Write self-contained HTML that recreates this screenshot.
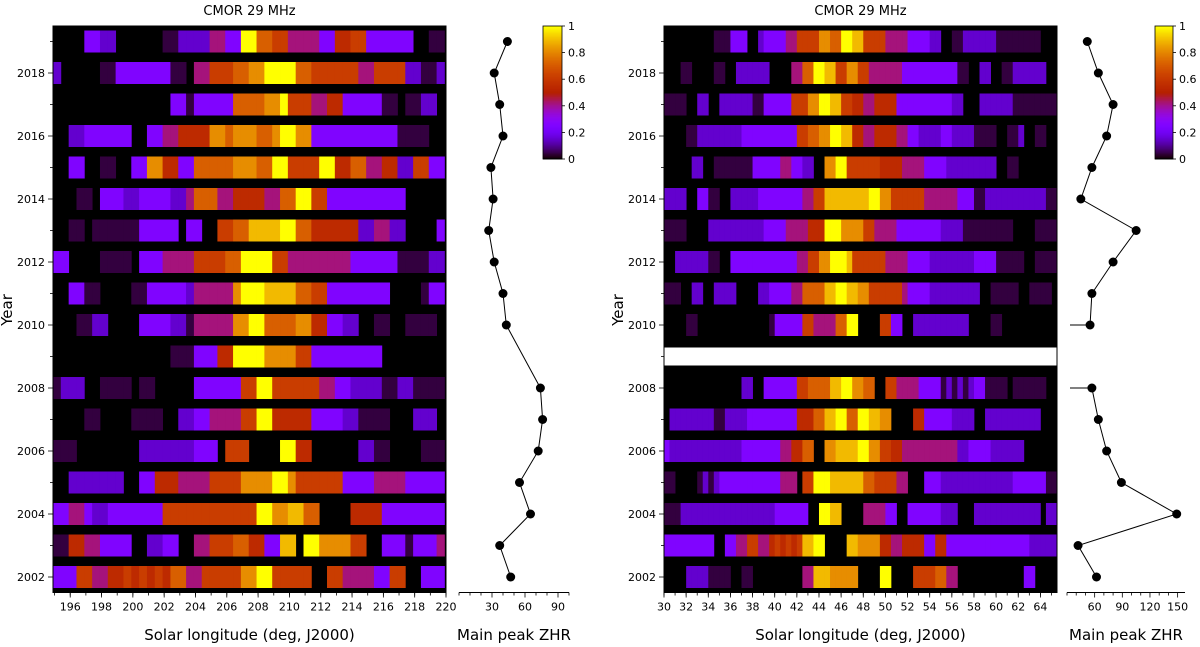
<!DOCTYPE html>
<html><head><meta charset="utf-8">
<style>
html,body{margin:0;padding:0;background:#fff;}
svg{display:block;font-family:"DejaVu Sans","Liberation Sans",sans-serif;}
</style></head>
<body>
<svg id="fig" width="1200" height="647" viewBox="0 0 1200 647" xmlns="http://www.w3.org/2000/svg"></svg>
<script>
// ---------- DATA ----------
const years = [2019,2018,2017,2016,2015,2014,2013,2012,2011,2010,2009,2008,2007,2006,2005,2004,2003,2002];
// Intensity level codes per 0.5-deg bin ('.' = no data); spaces are only separators
const levelCodes  = ['1','2','3','4','5','6','7','8','9','a'];
const levelValues = [0.04,0.15,0.25,0.42,0.55,0.62,0.72,0.82,0.9,1.0];
// Left panel bins start at 195.0 deg
const leftRows = [
".... 33 22 ...... 11 2222 44 33 aa 77 66 4444 33 55 66 333333 .. 11",
"2 ..... 11 33333 33 11 . 44 666 77 88 aaaa 77 666666 44 6666 22 11 2",
"............... 33 1 33333 7777 88 a 666 44 55 33333 11 . 11 22 .",
".. 22 3 33333 .. 33 44 5555 88 7 888 77 8 aa 88 333333 33333 1111 ..",
".. 33 .. 11 .. 33 88 55 33 77777 888 77 aa 6666 aa 55 77 44 55 22 66 33",
"... 11 . 333 22 3333 22 4 777 44 5555 44 77 aa 66 333333 3333 .....",
".. 11 . 111111 33333 . 33 .. 66 77 9999 aa 77 555555 22 44 22 .... 3",
"33 .... 1111 . 333 4444 6666 77 aaaa 66 44444444 33 3333 1111 22",
".. 33 11 .... 11 33 333 2 44444 8 aaa 9999 77 66 333333 33 .... 1 33",
"... 11 22 .... 3333 22 1 444 44 88 aa 7777 88 55 33 22 .. 11 .. 1111 .",
"............... 111 333 55 aaaa 8888 66 333333333 ........",
"1 222 .. 1111 . 11 ..... 33 3333 66 aa 666666 44 33 2222 11 22 1111",
".... 11 .... 1111 .. 22 33 4444 66 aa 55555 3333 22 1111 ... 222 .",
"111 ........ 2222222 333 . 666 .... aa 55 ...... 22 11 .... 111",
".. 2222222 .. 33 555 4444 6666 8888 aa 8 666666 3333 4444 33333",
"33 44 3 22 3333333 666666666666 aa 88 99 77 .... 5555 33333333",
"11 55 44 3333 .. 22 33 .. 44 666 77 55 33 99 . aa 8888 66 .. 333 1 333 4",
"333 66 44 5 5656565 77 44 66666 88 aa 66666 .. 66 4444 33 66 .. 333"
];
// Right panel bins start at 30.0 deg
const rightRows = [
"......... 111 333 .. 2 3333 44 6666 88 77 aa 99 6666 44 44 3333 22 .. 11 222222 11 111111 ...",
"... 11 .... 11 .. 222222 .... 44 77 aa 99 66 88 66 444444 33 33333333 11 .. 22 .. 11 222222 ..",
"1111 .. 22 .. 222222 11 33333 666 88 aa 99 66 55 44 5555 33 33333333 22 ... 222222 11111111",
".... 11 22222222 33 3333 3333 66 77 88 aa 99 55 44 5555 44 33 2222 33 2222 1111 .. 11 2 .. 11 ..",
"..... 22 .. 1111111 33333 44 33 22 .. 88 aa 666666 5555 4444 3333 222222222 .. 11 .......",
"2222 .. 33 11 .. 22222 33333333 44 66 99999999 aa 88 666666 444444 333 11 22222222222 11",
"1111 .... 2222222222 3333 4444 555 aaa 8888 66 4444 33333333 2222 111111111 .... 1111",
".. 222222 11 .. 3333 33333333 44 66 88 aaa 9 666666 4444 3333 22222222 3333 11111 .. 1111",
"111 .. 22 .. 2222 .... 22 3333 44 7777 99 aa 99 88 666666 4 3333 222222222 .. 11111 .. 1111 .",
".... 11 ............. 1 33333 66 4444 77 aa .... 66 33 .. 2222222222 .... 11 ..........",
".......................................................................",
".............. 22 .. 333333 66 7777 99 aa 88 77 .. 66 4444 3333 121212 33 1111 . 111111 ..",
". 22222222 11 2222 33333333 3 555 77 99 aa 77 aa 99 88 .... 55 33333 2222 .. 2222222222 ...",
"3 2222222222222 3333333 44 55 77 .. 88 9999 aa 88 66 55 44 44 444444 22 3333 222222 ......",
"11 .... 1212 33333333333 444 . 66 aaa 999999 77 6666 44 ... 333 2222222222222 333333 11",
"111 22222222222222222 333333 .. aa 99 .... 4444 33 .. 333333 222 ... 222222222222 . 22",
"333333333 .. 33 44 66 44 565656 99 aa .... 99 8888 55 44 5555 33 55 333333333333333 22222",
".... 2222 1111 .. 11 ......... 44 999 88888 .... aa .... 6666 77 44 ............ 33 ...."
];
const gapYears = [2009];
// Main peak ZHR (null = no data)
const zhrLeft  = [44,32,37,40,29,31,27,32,40,43,null,74,76,72,55,65,37,47];
const zhrRight = [52,64,80,73,57,45,105,80,57,55,null,57,64,73,89,149,42,62];
const leftTicks = [196,198,200,202,204,206,208,210,212,214,216,218,220];
const rightTicks = [30,32,34,36,38,40,42,44,46,48,50,52,54,56,58,60,62,64];
const zhrTicksL = [30,60,90];
const zhrTicksR = [60,90,120,150];
const cbTicks = [0,0.2,0.4,0.6,0.8,1];

// ---------- HELPERS ----------
const NS="http://www.w3.org/2000/svg";
const svg=document.getElementById('fig');
function mk(tag,attrs,parent){const e=document.createElementNS(NS,tag);for(const k in attrs)e.setAttribute(k,attrs[k]);(parent||svg).appendChild(e);return e;}
function gnu(v){v=Math.max(0,Math.min(1,v));const r=Math.sqrt(v),g=v*v*v,b=Math.max(0,Math.sin(2*Math.PI*v));
 return `rgb(${Math.round(r*255)},${Math.round(g*255)},${Math.round(b*255)})`;}
const yTop=26,yBot=592.5;
const yOf=y=>577+(2002-y)*31.5;

function heatPanel(name,rowsRaw,x0px,x1px,d0,d1,binW,ticks){
 const rows=rowsRaw.map(s=>s.replace(/ /g,''));
 const xs=d=>x0px+(d-d0)/(d1-d0)*(x1px-x0px);
 const g=mk('g',{});
 
 
 const bg=mk('rect',{x:x0px,y:yTop,width:x1px-x0px,height:yBot-yTop,fill:'#000'},g);
 
 
 rows.forEach((s,ri)=>{
  const yr=years[ri];const yc=yOf(yr);
  if(gapYears.includes(yr) && name==='right-heatmap'){
   const w=mk('rect',{x:x0px,y:yc-9,width:x1px-x0px,height:18,fill:'#fff'},g);
   
   
  }
  for(let i=0;i<s.length;i++){
   const k=levelCodes.indexOf(s[i]);if(k<0)continue;
   const dA=d0+i*binW;if(dA>=d1)break;
   const xa=xs(dA),xb=Math.min(xs(dA+binW),x1px);
   const c=mk('rect',{x:xa,y:yc-11,width:Math.max(0,xb-xa+0.4),height:22,fill:gnu(levelValues[k])},g);
   
   
  }
 });
 mk('rect',{x:x0px,y:yTop,width:x1px-x0px,height:yBot-yTop,fill:'none',stroke:'#000','stroke-width':1},g);
 for(let d=Math.ceil(d0);d<=d1;d+=1){
  const x=xs(d);mk('line',{x1:x,y1:yBot,x2:x,y2:yBot+3,stroke:'#000','stroke-width':0.8},g);
 }
 ticks.forEach(t=>{const x=xs(t);
  mk('line',{x1:x,y1:yBot,x2:x,y2:yBot+5,stroke:'#000','stroke-width':0.8},g);
  const tx=mk('text',{x:x,y:yBot+18,'font-size':11,'text-anchor':'middle'},g);tx.textContent=t;
  
  
 });
 for(let y=2002;y<=2019;y++){const yy=yOf(y);const major=y%2===0;
  mk('line',{x1:x0px,y1:yy,x2:x0px-(major?5:3),y2:yy,stroke:'#000','stroke-width':0.8},g);
  if(major){const t=mk('text',{x:x0px-8,y:yy+4,'font-size':11,'text-anchor':'end'},g);t.textContent=y;
   
   }
 }
 const title=mk('text',{x:(x0px+x1px)/2,y:15,'font-size':13,'text-anchor':'middle'},g);title.textContent='CMOR 29 MHz';
 
 
 const xl=mk('text',{x:(x0px+x1px)/2,y:640,'font-size':15,'text-anchor':'middle'},g);xl.textContent='Solar longitude (deg, J2000)';
 
 
 const yl=mk('text',{x:0,y:0,'font-size':15,'text-anchor':'middle',transform:`translate(${x0px-41},310) rotate(-90)`},g);yl.textContent='Year';
 
 
}

function zhrPanel(name,vals,x0px,x1px,v0,v1,ticks,stubs){
 const xs=v=>x0px+(v-v0)/(v1-v0)*(x1px-x0px);
 const g=mk('g',{});
 
 
 mk('line',{x1:x0px,y1:yBot,x2:x1px,y2:yBot,stroke:'#000','stroke-width':1},g);
 for(let v=Math.ceil(v0/10)*10;v<=v1;v+=10){const x=xs(v);
  mk('line',{x1:x,y1:yBot,x2:x,y2:yBot+(ticks.includes(v)?5:3),stroke:'#000','stroke-width':0.8},g);}
 ticks.forEach(t=>{const tx=mk('text',{x:xs(t),y:yBot+18,'font-size':11,'text-anchor':'middle'},g);tx.textContent=t;
  
  });
 let seg=[];const segs=[];
 vals.forEach((v,i)=>{if(v==null){if(seg.length)segs.push(seg);seg=[];}else seg.push([xs(v),yOf(years[i])]);});
 if(seg.length)segs.push(seg);
 const all=stubs?segs:[segs.flat()];
 all.forEach(s=>{const p=mk('polyline',{points:s.map(q=>q.join(',')).join(' '),fill:'none',stroke:'#000','stroke-width':1},g);
  
  });
 if(stubs){vals.forEach((v,i)=>{if(v!=null&&(vals[i-1]===null||vals[i+1]===null)){
  mk('line',{x1:x0px+3,y1:yOf(years[i]),x2:xs(v),y2:yOf(years[i]),stroke:'#000','stroke-width':1},g);}});}
 vals.forEach((v,i)=>{if(v==null)return;
  const c=mk('circle',{cx:xs(v),cy:yOf(years[i]),r:4.5,fill:'#000'},g);
  
  });
 const xl=mk('text',{x:(x0px+x1px)/2,y:640,'font-size':15,'text-anchor':'middle'},g);xl.textContent='Main peak ZHR';
 
 
}

function colorbar(name,x,w){
 const g=mk('g',{});
 
 
 const y0=26,y1=159,n=100;
 for(let i=0;i<n;i++){const v=i/(n-1);
  mk('rect',{x:x,y:y1-(i+1)*(y1-y0)/n,width:w,height:(y1-y0)/n+0.5,fill:gnu(v)},g);}
 mk('rect',{x:x,y:y0,width:w,height:y1-y0,fill:'none',stroke:'#000','stroke-width':0.8},g);
 cbTicks.forEach(t=>{const y=y1-t*(y1-y0);
  mk('line',{x1:x+w,y1:y,x2:x+w+3,y2:y,stroke:'#000','stroke-width':0.8},g);
  const tx=mk('text',{x:x+w+6,y:y+4,'font-size':11},g);tx.textContent=t;
  
  });
}

heatPanel('left-heatmap',leftRows,53,446,194.9,220,0.5,leftTicks);
heatPanel('right-heatmap',rightRows,664,1057,30,65.5,0.5,rightTicks);
zhrPanel('left-zhr-panel',zhrLeft,459,569,0,100,zhrTicksL,false);
zhrPanel('right-zhr-panel',zhrRight,1067,1185,30,158,zhrTicksR,true);
colorbar('left-colorbar',543,19);
colorbar('right-colorbar',1155,18);
</script>
</body></html>
